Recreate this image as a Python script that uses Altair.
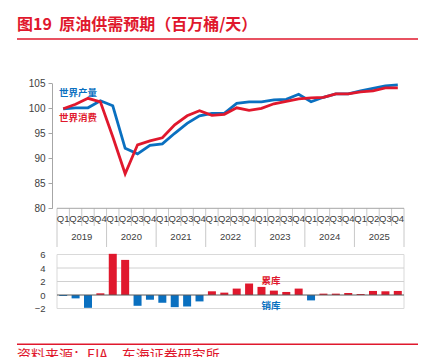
import altair as alt
import pandas as pd

years = ["2019", "2020", "2021", "2022", "2023", "2024", "2025"]
quarters = ["Q1", "Q2", "Q3", "Q4"]
production = [99.9, 100.1, 100.1, 101.5, 100.5, 92.0, 90.9, 92.6, 92.9, 95.0, 97.0, 98.5,
              99.0, 99.0, 101.0, 101.3, 101.3, 101.7, 101.8, 102.8, 101.3, 102.2, 102.9,
              102.9, 103.5, 104.0, 104.5, 104.7]
consumption = [99.9, 100.8, 102.0, 101.3, 94.3, 86.9, 92.7, 93.5, 94.1, 96.7, 98.5, 99.5,
               98.6, 98.8, 100.1, 99.6, 100.0, 100.9, 101.4, 101.9, 102.1, 102.2, 102.9,
               102.9, 103.3, 103.5, 104.1, 104.1]
balance = [-0.15, -0.5, -1.9, 0.25, 6.1, 5.2, -1.6, -0.7, -1.15, -1.8, -1.7, -0.95,
           0.55, 0.35, 0.95, 1.7, 1.2, 0.65, 0.45, 0.95, -0.8, 0.2, 0.2, 0.3, 0.15,
           0.6, 0.55, 0.6]

RED = "#E0182D"
BLUE = "#0A70C0"
GREY = "#404040"
LIGHT = "#c8c8c8"
CJK = "Noto Sans CJK SC"
LAT = "Liberation Sans"

n = len(production)
pos = [i + 0.5 for i in range(n)]
qlabels = [quarters[i % 4] for i in range(n)]

lines_df = pd.DataFrame({
    "pos": pos * 2,
    "value": production + consumption,
    "series": ["世界产量"] * n + ["世界消费"] * n,
})
bars_df = pd.DataFrame({"pos": pos, "value": balance,
                        "sign": ["pos" if v >= 0 else "neg" for v in balance]})
q_df = pd.DataFrame({"pos": pos, "label": qlabels})
y_df = pd.DataFrame({"pos": [4 * k + 2 for k in range(len(years))], "label": years})
qdiv_df = pd.DataFrame({"pos": [i for i in range(1, n) if i % 4 != 0]})
ydiv_df = pd.DataFrame({"pos": [i for i in range(0, n + 1, 4)]})

xs = alt.Scale(domain=[0, n], range=[0, 357], nice=False, zero=False)
top_scale = alt.Scale(domain=[80, 105], range=[208.3, 83.3], nice=False, zero=False)
bot_scale = alt.Scale(domain=[-2, 6], range=[308.5, 254.5], nice=False, zero=False)

top_axis = alt.Axis(orient="left", values=[80, 85, 90, 95, 100, 105], grid=False,
                    domainColor="#a6a6a6", tickColor="#a6a6a6", tickSize=4,
                    labelColor=GREY, labelFont=LAT, labelFontSize=10, labelPadding=3,
                    title=None, labelOverlap=False)
bot_axis = alt.Axis(orient="left", values=[-2, 0, 2, 4, 6], grid=False, domain=False,
                    ticks=False, labelColor=GREY, labelFont=LAT, labelFontSize=9.5,
                    labelPadding=7, title=None, labelOverlap=False)

lines = alt.Chart(lines_df).mark_line(strokeWidth=2.8).encode(
    x=alt.X("pos:Q", scale=xs, axis=None),
    y=alt.Y("value:Q", scale=top_scale, axis=top_axis),
    color=alt.Color("series:N", scale=alt.Scale(domain=["世界产量", "世界消费"], range=[BLUE, RED]),
                    legend=None),
    order=alt.Order("pos:Q"),
)

xbase = alt.Chart(pd.DataFrame({"a": [0], "b": [n], "v": [80]})).mark_rule(
    color="#a6a6a6", strokeWidth=1).encode(
    x=alt.X("a:Q", scale=xs, axis=None), x2="b:Q",
    y=alt.Y("v:Q", scale=top_scale, axis=None))

qdiv = alt.Chart(qdiv_df).mark_rule(color=LIGHT, strokeWidth=1).encode(
    x=alt.X("pos:Q", scale=xs, axis=None), y=alt.value(208.3), y2=alt.value(226))
ydiv = alt.Chart(ydiv_df).mark_rule(color=LIGHT, strokeWidth=1).encode(
    x=alt.X("pos:Q", scale=xs, axis=None), y=alt.value(208.3), y2=alt.value(247))

qtext = alt.Chart(q_df).mark_text(font=LAT, fontSize=9.5, color=GREY, baseline="middle").encode(
    x=alt.X("pos:Q", scale=xs, axis=None), y=alt.value(219), text="label:N")
ytext = alt.Chart(y_df).mark_text(font=LAT, fontSize=9.5, color=GREY, baseline="middle").encode(
    x=alt.X("pos:Q", scale=xs, axis=None), y=alt.value(237), text="label:N")

frame = alt.Chart(pd.DataFrame({"a": [0], "b": [n], "lo": [-2], "hi": [6]})).mark_rect(
    fill=None, stroke="#d9d9d9", strokeWidth=1).encode(
    x=alt.X("a:Q", scale=xs, axis=None), x2="b:Q",
    y=alt.Y("lo:Q", scale=bot_scale, axis=bot_axis), y2="hi:Q")

grid = alt.Chart(pd.DataFrame({"v": [2, 4], "a": [0, 0], "b": [n, n]})).mark_rule(
    color="#d0d0d0", strokeWidth=1).encode(
    x=alt.X("a:Q", scale=xs, axis=None), x2="b:Q",
    y=alt.Y("v:Q", scale=bot_scale, axis=None))

bars = alt.Chart(bars_df).mark_bar(size=8).encode(
    x=alt.X("pos:Q", scale=xs, axis=None),
    y=alt.Y("value:Q", scale=bot_scale, axis=None),
    y2=alt.datum(0),
    color=alt.Color("sign:N", scale=alt.Scale(domain=["pos", "neg"], range=[RED, BLUE]),
                    legend=None),
)

zero = alt.Chart(pd.DataFrame({"v": [0], "a": [0], "b": [n]})).mark_rule(
    color="#595959", strokeWidth=1).encode(
    x=alt.X("a:Q", scale=xs, axis=None), x2="b:Q",
    y=alt.Y("v:Q", scale=bot_scale, axis=None))

def label(txt, x, y, color, size, weight="normal", align="left", baseline="middle", font=CJK):
    return alt.Chart(pd.DataFrame({"t": [txt]})).mark_text(
        font=font, fontSize=size, fontWeight=weight, color=color, align=align,
        baseline=baseline).encode(x=alt.value(x), y=alt.value(y), text="t:N")

ann = [
    label("世界产量", 7, 93, BLUE, 9.5, "bold"),
    label("世界消费", 7, 118, RED, 9.5, "bold"),
    label("累库", 219, 281, RED, 9.5, "bold", align="center"),
    label("销库", 219, 306, BLUE, 9.5, "bold", align="center"),
    label("图19\u00a0\u00a0原油供需预期（百万桶/天）", -35, 25, RED, 16, "bold"),
    label("资料来源：EIA，东海证券研究所", -35, 349, RED, 14, "normal", baseline="top"),
]

def hline(y):
    return alt.Chart(pd.DataFrame({"a": [0]})).mark_rule(color=RED, strokeWidth=1.5).encode(
        x=alt.value(-35), x2=alt.value(366), y=alt.value(y))

chart = alt.layer(
    qdiv, ydiv, xbase, lines, frame, grid, bars, zero, qtext, ytext,
    *ann, hline(39), hline(344.3)
).resolve_scale(y="independent", color="independent").properties(
    width=357, height=357,
    autosize=alt.AutoSizeParams(type="none"),
    padding={"left": 52, "right": 24, "top": 0, "bottom": 0},
    background="white",
).configure_view(stroke=None)

chart.save("out.html", embed_options={"renderer": "svg", "actions": False})
